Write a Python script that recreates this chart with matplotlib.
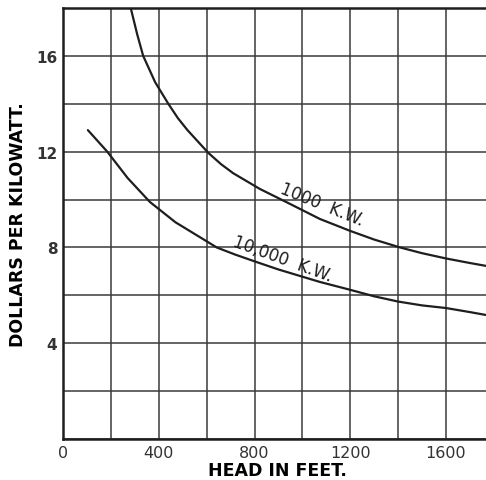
import matplotlib
matplotlib.use("Agg")
import matplotlib.pyplot as plt
import numpy as np

# ── Data ─────────────────────────────────────────────────────────────────────
HEAD_1000 = [283, 310, 335, 385, 440, 480, 520, 607, 660, 711, 823, 948, 1073,
             1200, 1300, 1408, 1500, 1600, 1700, 1767]
COST_1000 = [18.0, 16.9, 16.0, 14.9, 14.0, 13.4, 12.9, 11.95, 11.48, 11.1,
             10.44, 9.82, 9.19, 8.69, 8.33, 8.0, 7.76, 7.54, 7.35, 7.23]

HEAD_10000 = [104, 185, 270, 363, 470, 585, 642, 720, 800, 900, 1073, 1200,
              1300, 1400, 1500, 1600, 1700, 1767]
COST_10000 = [12.9, 12.0, 10.9, 9.9, 9.05, 8.35, 8.0, 7.7, 7.42, 7.08, 6.56,
              6.23, 5.96, 5.74, 5.58, 5.47, 5.3, 5.18]

X_TICKS = np.arange(0, 1801, 200)
Y_TICKS = np.arange(0, 19, 2)
X_LABELS = ["0", "", "400", "", "800", "", "1200", "", "1600", ""]
Y_LABELS = ["", "", "4", "", "8", "", "12", "", "16", ""]

INK = "#1e1e1e"

# ── Figure ───────────────────────────────────────────────────────────────────
fig = plt.figure(figsize=(4.86, 4.81), dpi=100)
ax = fig.add_axes([0.1296, 0.0852, 0.8704, 0.8961])

ax.plot(HEAD_1000, COST_1000, color=INK, lw=1.6, solid_capstyle="round")
ax.plot(HEAD_10000, COST_10000, color=INK, lw=1.6, solid_capstyle="round")

ax.set_xticks(X_TICKS)
ax.set_xticklabels(X_LABELS, fontsize=11.5, color="#333333")
ax.set_yticks(Y_TICKS)
ax.set_yticklabels(Y_LABELS, fontsize=11, color="#333333", fontweight="bold")
# limits after ticks, otherwise the 1800 tick widens the view
ax.set_xlim(0, 1767)
ax.set_ylim(0, 18)
ax.tick_params(length=0, pad=4)
ax.grid(True, color="#3a3a3a", lw=1.1)
ax.set_axisbelow(True)

for side in ("left", "bottom", "top"):
    ax.spines[side].set_linewidth(1.8)
    ax.spines[side].set_color(INK)
ax.spines["right"].set_visible(False)

ax.text(1080, 9.8, "1000  K.W.", rotation=-22, ha="center", va="center",
        fontsize=12, color=INK)
ax.text(918, 7.55, "10,000  K.W.", rotation=-20, ha="center", va="center",
        fontsize=12, color=INK)

ax.set_xlabel("HEAD IN FEET.", fontsize=12.5, fontweight="bold", color="black")
ax.xaxis.set_label_coords(0.508, -0.05)
ax.set_ylabel("DOLLARS PER KILOWATT.", fontsize=12.5, fontweight="bold",
              color="black")
ax.yaxis.set_label_coords(-0.085, 0.5)

plt.savefig("out.png", dpi=100, facecolor="white")
